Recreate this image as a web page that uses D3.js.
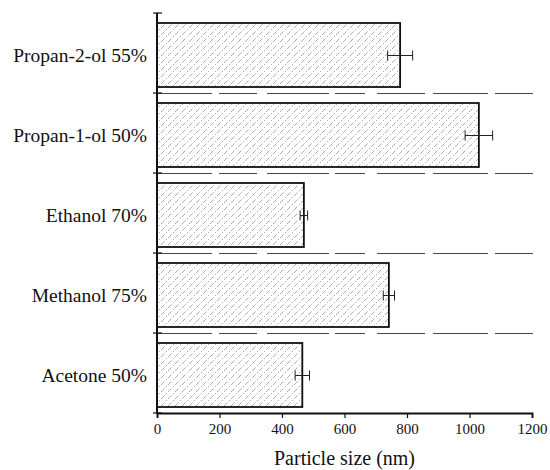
<!DOCTYPE html>
<html>
<head>
<meta charset="utf-8">
<script src="https://cdn.jsdelivr.net/npm/d3@7"></script>
<style>
  html, body { margin: 0; padding: 0; background: #fff; }
  svg { display: block; }
  text { font-family: "Liberation Serif", "Times New Roman", serif; fill: #111; }
</style>
</head>
<body>
<svg id="chart" width="550" height="470"></svg>
<script>
// Particle size by solvent (nm), with standard deviation
const categories = ["Propan-2-ol 55%", "Propan-1-ol 50%", "Ethanol 70%", "Methanol 75%", "Acetone 50%"];
const sizes = [778, 1030, 470, 742, 465];
const errors = [40, 44, 12, 18, 23];
const xTicks = [0, 200, 400, 600, 800, 1000, 1200];

const svg = d3.select("#chart");
const margin = { left: 157, right: 18, top: 13, bottom: 57 };
const W = 550, H = 470;

const x = d3.scaleLinear().domain([0, 1200]).range([margin.left, 532]);
const y = d3.scaleBand().domain(categories).range([margin.top, H - margin.bottom]).padding(0);

// Diagonal "/" hatching used to fill the bars
const T = 7;
const defs = svg.append("defs");
const pat = defs.append("pattern")
  .attr("id", "hatch")
  .attr("patternUnits", "userSpaceOnUse")
  .attr("width", T).attr("height", T);
pat.append("path")
  .attr("d", `M0,${T} L${T},0 M${-T / 2},${T / 2} L${T / 2},${-T / 2} M${T / 2},${T * 1.5} L${T * 1.5},${T / 2}`)
  .attr("stroke", "#666").attr("stroke-width", 0.55)
  .attr("stroke-dasharray", "5 2 1.5 1.4")
  .attr("fill", "none");

// Dashed separators between categories
const bounds = categories.slice(1).map(c => Math.round(y(c)) + 0.5);
svg.append("g").selectAll("line").data(bounds).join("line")
  .attr("x1", x(0)).attr("x2", 540)
  .attr("y1", d => d).attr("y2", d => d)
  .attr("stroke", "#333").attr("stroke-width", 0.9)
  .attr("stroke-dasharray", "55 7 38 10 62 6 30 12 48 8");

// Bars
const barTop = 10, barH = 64;
const data = categories.map((c, i) => ({ c, v: sizes[i], e: errors[i] }));
svg.append("g").selectAll("rect").data(data).join("rect")
  .attr("x", x(0))
  .attr("y", d => y(d.c) + barTop)
  .attr("width", d => x(d.v) - x(0))
  .attr("height", barH)
  .attr("fill", "url(#hatch)")
  .attr("stroke", "#111").attr("stroke-width", 1.8);

// Error bars
const eb = svg.append("g").attr("stroke", "#222").attr("stroke-width", 1);
data.forEach(d => {
  const cy = Math.round(y(d.c) + barTop + barH / 2) + 0.5;
  eb.append("line").attr("x1", x(d.v - d.e)).attr("x2", x(d.v + d.e)).attr("y1", cy).attr("y2", cy);
  [d.v - d.e, d.v + d.e].forEach(v => {
    eb.append("line").attr("x1", x(v)).attr("x2", x(v)).attr("y1", cy - 5).attr("y2", cy + 5);
  });
});

// Y axis with ticks at band boundaries
const yEdges = categories.map(c => y(c)).concat([y.range()[1]]);
const ya = svg.append("g");
ya.append("line").attr("x1", x(0)).attr("x2", x(0))
  .attr("y1", margin.top).attr("y2", y.range()[1])
  .attr("stroke", "#111").attr("stroke-width", 2);
ya.selectAll("line.t").data(yEdges).join("line").attr("class", "t")
  .attr("x1", x(0) - 4).attr("x2", x(0) + 5)
  .attr("y1", d => d).attr("y2", d => d)
  .attr("stroke", "#111").attr("stroke-width", 1.2);
ya.selectAll("text").data(categories).join("text")
  .attr("x", 147)
  .attr("y", d => y(d) + barTop + barH / 2)
  .attr("dy", "0.35em")
  .attr("text-anchor", "end")
  .attr("font-size", 19.5)
  .text(d => d);

// X axis
const xa = svg.append("g").attr("transform", `translate(0,${y.range()[1]})`)
  .call(d3.axisBottom(x).tickValues(xTicks).tickSize(5).tickPadding(5).tickFormat(d3.format("d")));
xa.select(".domain").attr("stroke", "#111").attr("stroke-width", 1.8);
xa.selectAll(".tick line").attr("stroke", "#111").attr("stroke-width", 1.2);
xa.selectAll(".tick text")
  .attr("font-family", "Liberation Serif, Times New Roman, serif")
  .attr("font-size", 15).attr("fill", "#111");

svg.append("text")
  .attr("x", (x(0) + x(1200)) / 2 + 0)
  .attr("y", 465)
  .attr("text-anchor", "middle")
  .attr("font-size", 20)
  .text("Particle size (nm)");
</script>
</body>
</html>
